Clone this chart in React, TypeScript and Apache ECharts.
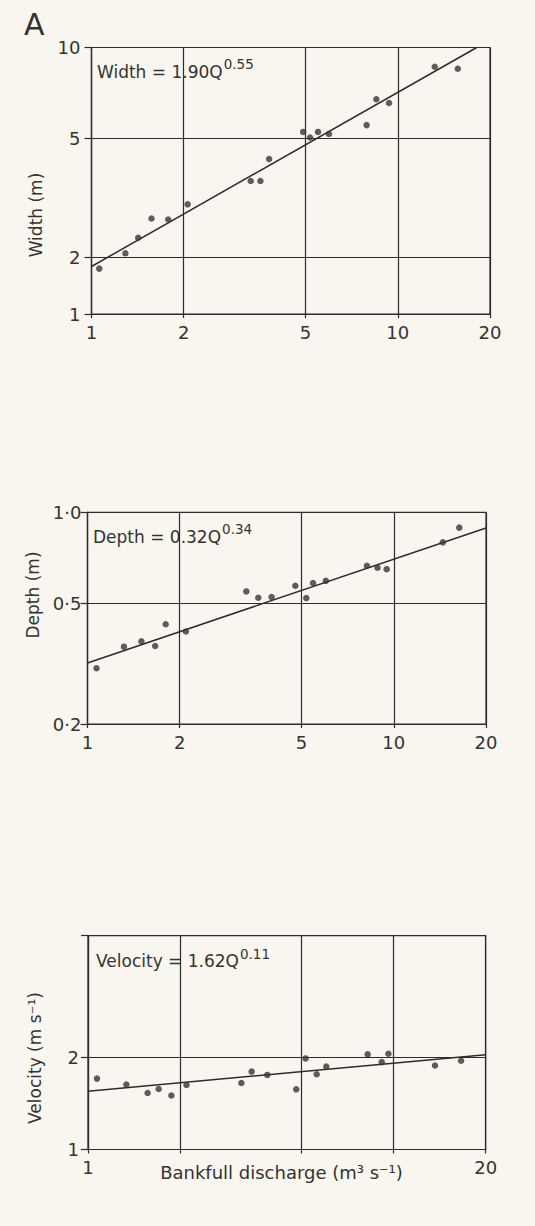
import React, { useEffect, useRef } from "react";
import * as echarts from "echarts";

// ---------- data ----------
const xTickValues = [1, 2, 5, 10, 20];
const velocityXLabelValues = [1, 20];

// Panel 1: Width
const widthQ = [1.06, 1.29, 1.42, 1.57, 1.78, 2.06, 3.31, 3.56, 3.8, 4.91, 5.17, 5.49, 5.96, 7.91, 8.51, 9.36, 13.2, 15.7];
const widthW = [1.84, 2.07, 2.33, 2.7, 2.68, 3.01, 3.6, 3.6, 4.26, 5.24, 5.02, 5.24, 5.16, 5.52, 6.73, 6.54, 8.63, 8.5];
const widthFitQ = [1, 18.1];
const widthFitW = [1.87, 10];
const widthAxisMin = 1.3; // broken axis: bottom tick labelled "1"
const widthAxisMax = 10;
const widthTickValues = [1.3, 2, 5, 10];
const widthTickLabels = ["1", "2", "5", "10"];

// Panel 2: Depth
const depthQ = [1.07, 1.315, 1.5, 1.663, 1.8, 2.095, 3.3, 3.61, 3.99, 4.77, 5.18, 5.45, 6.0, 8.17, 8.85, 9.48, 14.46, 16.36];
const depthD = [0.3055, 0.36, 0.375, 0.362, 0.427, 0.404, 0.548, 0.522, 0.525, 0.572, 0.521, 0.584, 0.594, 0.666, 0.656, 0.649, 0.796, 0.89];
const depthFitQ = [1, 20];
const depthFitD = [0.318, 0.888];
const depthAxisMin = 0.2;
const depthAxisMax = 1.0;
const depthTickValues = [0.2, 0.5, 1.0];
const depthTickLabels = ["0·2", "0·5", "1·0"];

// Panel 3: Velocity
const velQ = [1.07, 1.335, 1.567, 1.703, 1.874, 2.1, 3.175, 3.43, 3.86, 4.8, 5.15, 5.6, 6.02, 8.22, 9.14, 9.61, 13.65, 16.61];
const velV = [1.705, 1.63, 1.53, 1.577, 1.502, 1.625, 1.65, 1.798, 1.753, 1.573, 1.985, 1.762, 1.867, 2.046, 1.93, 2.056, 1.882, 1.95];
const velFitQ = [1, 20];
const velFitV = [1.55, 2.04];
const velAxisMin = 1;
const velAxisMax = 5;
const velTickValues = [1, 2, 5];
const velLabelValues = [1, 2];
const velLabelTexts = ["1", "2"];

const equations = [
  { name: "Width = 1.90Q", exp: "0.55" },
  { name: "Depth = 0.32Q", exp: "0.34" },
  { name: "Velocity = 1.62Q", exp: "0.11" },
];
const yNames = ["Width (m)", "Depth (m)", "Velocity (m s⁻¹)"];
const xName = "Bankfull discharge (m³ s⁻¹)";
const panelLetter = "A";

// ---------- styles / layout ----------
const FONT = "DejaVu Sans";
const INK = "#2e2c2b";
const TEXT = "#353332";
const DOT = "#3a3433";
const BG = "#f8f6ef";

const grids = [
  { left: 91.5, top: 47.5, width: 398.5, height: 266.5 },
  { left: 87.5, top: 512.3, width: 398.5, height: 211.7 },
  { left: 88, top: 935.7, width: 397.7, height: 213.8 },
];
const yLabelMargins = [11, 6, 9];

function nearestLabel(v: number, vals: number[], labels: string[]) {
  let best = 0;
  let bd = Infinity;
  vals.forEach((t, i) => {
    const d = Math.abs(Math.log(t) - Math.log(v));
    if (d < bd) {
      bd = d;
      best = i;
    }
  });
  return labels[best];
}

function pairs(a: number[], b: number[]) {
  return a.map((v, i) => [v, b[i]]);
}

export default function App() {
  const ref = useRef<HTMLDivElement>(null);

  useEffect(() => {
    document.body.style.margin = "0";
    document.body.style.background = BG;
    if (!ref.current) return;
    const chart = echarts.init(ref.current, undefined, { renderer: "svg" });

    const lineW = 1.2;
    const xAxes = grids.map((_, i) => ({
      type: "log",
      logBase: 10,
      gridIndex: i,
      min: 1,
      max: 20,
      axisLine: { show: true, lineStyle: { color: INK, width: lineW } },
      axisTick: {
        show: true,
        inside: false,
        length: 4,
        customValues: xTickValues,
        lineStyle: { color: INK, width: lineW },
      },
      axisLabel: {
        customValues: i === 2 ? velocityXLabelValues : xTickValues,
        margin: 9,
        fontSize: 18,
        fontFamily: FONT,
        color: TEXT,
        formatter: (v: number) => String(Math.round(v)),
      },
      splitLine: { show: true, lineStyle: { color: INK, width: lineW } },
      minorTick: { show: false },
      minorSplitLine: { show: false },
    }));

    const yCfg = [
      { min: widthAxisMin, max: widthAxisMax, ticks: widthTickValues, labels: widthTickValues, fmt: (v: number) => nearestLabel(v, widthTickValues, widthTickLabels) },
      { min: depthAxisMin, max: depthAxisMax, ticks: depthTickValues, labels: depthTickValues, fmt: (v: number) => nearestLabel(v, depthTickValues, depthTickLabels) },
      { min: velAxisMin, max: velAxisMax, ticks: velTickValues, labels: velLabelValues, fmt: (v: number) => nearestLabel(v, velLabelValues, velLabelTexts) },
    ];
    const yAxes = yCfg.map((c, i) => ({
      type: "log",
      logBase: 10,
      gridIndex: i,
      min: c.min,
      max: c.max,
      axisLine: { show: true, lineStyle: { color: INK, width: lineW } },
      axisTick: {
        show: true,
        inside: false,
        length: 7,
        customValues: c.ticks,
        lineStyle: { color: INK, width: lineW },
      },
      axisLabel: {
        customValues: c.labels,
        margin: yLabelMargins[i],
        fontSize: 18,
        fontFamily: FONT,
        color: TEXT,
        formatter: c.fmt,
      },
      splitLine: { show: true, lineStyle: { color: INK, width: lineW } },
      minorTick: { show: false },
      minorSplitLine: { show: false },
    }));

    const scatterData = [pairs(widthQ, widthW), pairs(depthQ, depthD), pairs(velQ, velV)];
    const fitData = [pairs(widthFitQ, widthFitW), pairs(depthFitQ, depthFitD), pairs(velFitQ, velFitV)];

    const series: any[] = [];
    for (let i = 0; i < 3; i++) {
      series.push({
        type: "line",
        xAxisIndex: i,
        yAxisIndex: i,
        data: fitData[i],
        showSymbol: false,
        symbol: "none",
        lineStyle: { color: INK, width: 1.5 },
        silent: true,
        z: 2,
      });
      series.push({
        type: "scatter",
        xAxisIndex: i,
        yAxisIndex: i,
        data: scatterData[i],
        symbol: "circle",
        symbolSize: 6.5,
        itemStyle: { color: DOT },
        silent: true,
        z: 3,
      });
    }

    const eqPos = [
      { x: 97, y: 80 },
      { x: 93, y: 545 },
      { x: 96, y: 969.5 },
    ];
    const yNamePos = [
      { x: 36, y: 215 },
      { x: 33, y: 595 },
      { x: 35, y: 1058 },
    ];

    const graphic: any[] = [
      {
        type: "text",
        x: 24,
        y: 24,
        style: {
          text: panelLetter,
          fontSize: 30,
          fontFamily: FONT,
          fill: TEXT,
          align: "left",
          verticalAlign: "middle",
        },
      },
      {
        type: "text",
        x: 281.5,
        y: 1172,
        style: {
          text: xName,
          fontSize: 18,
          fontFamily: FONT,
          fill: TEXT,
          align: "center",
          verticalAlign: "middle",
        },
      },
    ];
    for (let i = 0; i < 3; i++) {
      graphic.push({
        type: "text",
        x: eqPos[i].x,
        y: eqPos[i].y,
        style: {
          text: `{a|${equations[i].name}}{s|${equations[i].exp}}`,
          fontFamily: FONT,
          fill: TEXT,
          align: "left",
          verticalAlign: "bottom",
          rich: {
            a: { fontSize: 17, fontFamily: FONT, fill: TEXT, verticalAlign: "bottom" },
            s: { fontSize: 13.5, fontFamily: FONT, fill: TEXT, verticalAlign: "bottom", padding: [0, 0, 9, 1] },
          },
        },
      });
      graphic.push({
        type: "text",
        x: yNamePos[i].x,
        y: yNamePos[i].y,
        rotation: Math.PI / 2,
        style: {
          text: yNames[i],
          fontSize: 17,
          fontFamily: FONT,
          fill: TEXT,
          align: "center",
          verticalAlign: "middle",
        },
      });
    }

    chart.setOption({
      animation: false,
      backgroundColor: BG,
      grid: grids.map((g) => ({
        ...g,
        show: true,
        borderColor: INK,
        borderWidth: lineW,
        backgroundColor: "transparent",
        containLabel: false,
      })),
      xAxis: xAxes,
      yAxis: yAxes,
      series,
      graphic,
    } as any);

    return () => {
      chart.dispose();
    };
  }, []);

  return <div ref={ref} style={{ width: 535, height: 1226 }} />;
}
